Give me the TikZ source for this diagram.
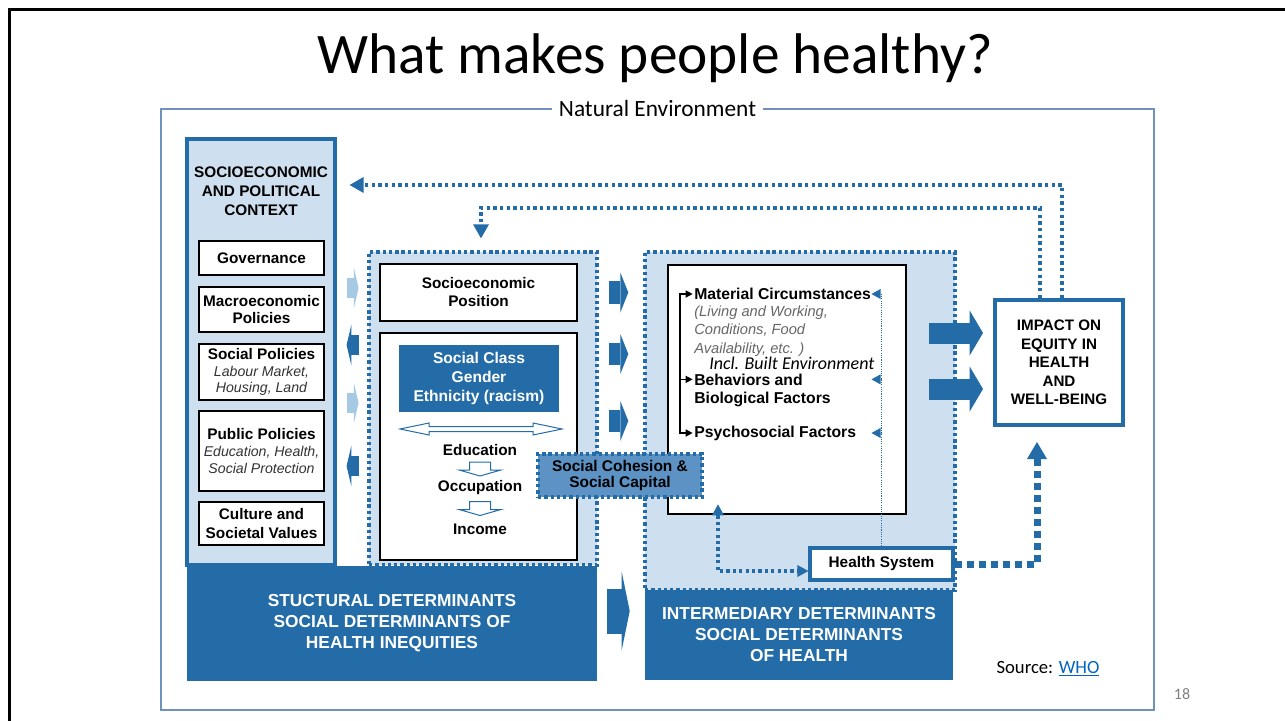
\documentclass[tikz,border=0pt]{standalone}
\usepackage{fontspec}
\setmainfont{Liberation Sans}
\newfontfamily\calibri{Carlito}
\usepackage{xcolor}
\usepackage{tikz}
\usetikzlibrary{arrows.meta}
\usetikzlibrary{calc}
\definecolor{blueD}{RGB}{36,108,168}
\definecolor{blueL}{RGB}{206,224,239}
\definecolor{blueM}{RGB}{92,146,196}
\definecolor{blueA}{RGB}{166,201,228}
\definecolor{frameB}{RGB}{110,145,190}
\definecolor{linkB}{RGB}{5,99,193}
\newcommand*\polnote[1]{{\mdseries\itshape\fontsize{10.6}{12.4}\selectfont\color{black!80}#1}}
\tikzset{
    txt/.style={inner sep=0pt, align=center, font=\bfseries\fontsize{11.5}{13.5}\selectfont},
    policy/.style={txt, draw=black, line width=1.5pt, fill=white, minimum width=93.75pt, font=\bfseries\fontsize{11.5}{12.4}\selectfont},
    whitebox/.style={txt, draw=black, line width=1.5pt, fill=white},
    bluebox/.style={txt, draw=blueD, line width=2.4pt, fill=white},
    darkbox/.style={fill=blueD, text=white, inner sep=0pt, align=center, font=\bfseries\fontsize{13}{15.75}\selectfont},
    dotregion/.style={draw=blueD, fill=blueL, line width=2.5pt, dash pattern=on 2.5pt off 2.2pt, inner sep=0pt},
    factor/.style={txt, align=left, anchor=west, font=\bfseries\fontsize{11.8}{13.5}\selectfont},
    feedback/.style={draw=blueD, line width=2.6pt, dash pattern=on 2.6pt off 2.4pt, -{Triangle[width=12pt,length=10.5pt,line width=0pt]}},
    hsarrow/.style={draw=blueD, line width=5.25pt, dash pattern=on 5.25pt off 3.75pt, -{Triangle[width=15pt,length=12.75pt,line width=0pt]}},
    hsthin/.style={draw=blueD, line width=2.5pt, dash pattern=on 2.5pt off 2.3pt, {Triangle[width=9pt,length=8.25pt,line width=0pt]}-{Triangle[width=9pt,length=8.25pt,line width=0pt]}},
    thinline/.style={draw=blueD, line width=0.8pt, dash pattern=on 0.8pt off 0.9pt},
    tinyarrow/.style={draw=blueD, line width=0.75pt, -{Triangle[width=7.5pt,length=6.75pt,line width=0pt]}},
    bracket/.style={draw=black, line width=1pt, shorten <=1pt, shorten >=1pt},
    sidearrow/.style={line width=15pt, -{Triangle[width=30pt,length=3.5pt,line width=0pt]}},
    midarrow/.style={draw=blueD, line width=17pt, -{Triangle[width=30pt,length=6pt,line width=0pt]}},
    bigblock/.style={draw=blueD, line width=33.75pt, -{Triangle[width=58.5pt,length=6pt,line width=0pt]}},
    impactarrow/.style={draw=blueD, line width=15.75pt, -{Triangle[width=33.75pt,length=10pt,line width=0pt]}},
    hollowarrow/.style={draw=blueD, line width=0.75pt, fill=white, line join=miter},
}
\begin{document}
\begin{tikzpicture}[x=0.75pt,y=-0.75pt]
\useasboundingbox (0,0) rectangle (1285,721);
\draw[line width=2.25pt] (9,721) -- (9,9) -- (1285,9);
\node[inner sep=0pt, anchor=base, font=\calibri\fontsize{43}{50}\selectfont] (title) at (655,73) {What makes people healthy?};
\node[draw=frameB, line width=1.1pt, minimum width=744.75pt, minimum height=450.75pt] (nature) at (657.5,409.5) {};
\node[fill=white, inner xsep=5pt, inner ysep=1pt, font=\calibri\fontsize{17.5}{20}\selectfont] (naturelabel) at (nature.north) {Natural Environment};

% socioeconomic and political context
\node[draw=blueD, fill=blueL, line width=2.4pt, minimum width=111pt, minimum height=319.5pt] (ctx) at (261,352) {};
\node[txt, font=\bfseries\fontsize{11.5}{14.25}\selectfont] (ctxtitle) at (261,191) {SOCIOECONOMIC\\AND POLITICAL\\CONTEXT};
\node[policy, minimum height=25.5pt] (gov) at (261.5,258) {Governance};
\node[policy, minimum height=33.75pt] (macro) at (261.5,309.5) {Macroeconomic\\Policies};
\node[policy, minimum height=42pt] (socpol) at (261.5,372) {Social Policies\\\polnote{Labour Market,}\\\polnote{Housing, Land}};
\node[policy, minimum height=60pt] (pubpol) at (261.5,451) {Public Policies\\\polnote{Education, Health,}\\\polnote{Social Protection}};
\node[policy, minimum height=32.25pt] (culture) at (261.5,523.5) {Culture and\\[1.5pt]Societal Values};

% socioeconomic position
\node[dotregion, minimum width=171pt, minimum height=234.75pt] (sepreg) at (483,408.5) {};
\node[whitebox, minimum width=147.75pt, minimum height=42.75pt] (sepos) at (478.5,292.5) {Socioeconomic\\Position};
\node[whitebox, minimum width=147.75pt, minimum height=170.25pt] (classbox) at (478.5,446.5) {};
\node[darkbox, font=\bfseries\fontsize{11.7}{14.25}\selectfont, minimum width=120pt, minimum height=50.25pt] (classes) at (479,378.5) {Social Class\\Gender\\Ethnicity (racism)};
\coordinate (dbl) at (481,429);
\draw[hollowarrow, shift={(dbl)}] (-81,0) -- (-52,-6) -- (-52,-2.5) -- (52,-2.5) -- (52,-6) -- (81,0) -- (52,6) -- (52,2.5) -- (-52,2.5) -- (-52,6) -- cycle;
\node[txt] (edu) at (480,450) {Education};
\node[txt] (occ) at (480,488) {Occupation};
\node[txt] (inc) at (480,529) {Income};
\draw[hollowarrow, shift={($(edu)!0.5!(occ)$)}] (-10.5,-7) -- (10.5,-7) -- (10.5,1) -- (21,1) -- (0,7) -- (-21,1) -- (-10.5,1) -- cycle;
\draw[hollowarrow, shift={($(occ)!0.5!(inc)$)}] (-10.5,-7) -- (10.5,-7) -- (10.5,1) -- (21,1) -- (0,7) -- (-21,1) -- (-10.5,1) -- cycle;

\draw[sidearrow, blueA] ([xshift=7.5pt]ctx.east |- 0,288) -- ++(12,0);
\draw[sidearrow, blueD] ([xshift=16.5pt]ctx.east |- 0,345) -- ++(-12,0);
\draw[sidearrow, blueA] ([xshift=7.5pt]ctx.east |- 0,403) -- ++(12,0);
\draw[sidearrow, blueD] ([xshift=16.5pt]ctx.east |- 0,466) -- ++(-12,0);

% intermediary determinants
\node[dotregion, minimum width=232.5pt, minimum height=253.5pt] (inter) at (800,421) {};
\node[draw=black, line width=1.5pt, fill=white, minimum width=178.5pt, minimum height=186.75pt] (interbox) at (787,389.5) {};
\node[factor] (mat) at (694,294) {Material Circumstances};
\node[txt, align=left, anchor=west, font=\itshape\fontsize{11}{13.9}\selectfont, text=black!60] (matnote) at (694,331) {(Living and Working,\\Conditions, Food\\Availability, etc. )};
\node[inner sep=0pt, anchor=west, font=\calibri\itshape\fontsize{13.5}{15}\selectfont] (built) at (709,363) {Incl. Built Environment};
\node[factor] (beh) at (694,390) {Behaviors and\\Biological Factors};
\node[factor] (psy) at (694,433) {Psychosocial Factors};
\coordinate (behpt) at ([yshift=-4.5pt]beh.north west);

\draw[midarrow] ([xshift=7.5pt]sepreg.east |- sepos) -- ([xshift=-11.25pt]inter.west |- sepos);
\draw[midarrow] ([xshift=7.5pt]sepreg.east |- 0,354) -- ([xshift=-11.25pt]inter.west |- 0,354);
\draw[midarrow] ([xshift=7.5pt]sepreg.east |- 0,421) -- ([xshift=-11.25pt]inter.west |- 0,421);

\node[dotregion, fill=blueM, txt, font=\bfseries\fontsize{11.6}{12}\selectfont, minimum width=123pt, minimum height=32.25pt] (cohesion) at (620,475.5) {Social Cohesion \&\\Social Capital};

\node[darkbox, minimum width=307.5pt, minimum height=86.25pt] (struct) at (392,623.5) {STUCTURAL DETERMINANTS\\SOCIAL DETERMINANTS OF\\HEALTH INEQUITIES};
\node[darkbox, minimum width=231pt, minimum height=67.5pt] (interlabel) at (799,635) {INTERMEDIARY DETERMINANTS\\SOCIAL DETERMINANTS\\OF HEALTH};
\draw[bigblock] ([xshift=7.5pt]struct.east |- 0,611) -- ([xshift=-11.25pt]interlabel.west |- 0,611);

\node[bluebox, minimum width=107.25pt, minimum height=24pt] (health) at (881.5,564) {Health System};
\node[bluebox, line width=3pt, minimum width=96pt, minimum height=93.75pt, font=\bfseries\fontsize{11.4}{13.9}\selectfont] (impact) at (1059,362.5) {IMPACT ON\\EQUITY IN\\HEALTH\\AND\\WELL-BEING};
\draw[impactarrow] ([xshift=16.5pt]interbox.east |- 0,333) -- ([xshift=-7.5pt]impact.west |- 0,333);
\draw[impactarrow] ([xshift=16.5pt]interbox.east |- 0,389) -- ([xshift=-7.5pt]impact.west |- 0,389);

% connectors
\draw[bracket, {Triangle[width=5.25pt,length=5.25pt]}-{Triangle[width=5.25pt,length=5.25pt]}] (mat.west) -| ([xshift=-10.5pt]psy.west) -- (psy.west);
\draw[bracket, -{Triangle[width=5.25pt,length=5.25pt]}] ([xshift=-10.5pt]psy.west |- behpt) -- (behpt);
\draw[thinline] (health.north) -- (health.north |- mat);
\foreach \f in {mat,behpt,psy}
    \draw[tinyarrow] (health.north |- \f) -- ++(-10,0);
\coordinate (hsleft) at (718,571);
\draw[hsthin] ([yshift=8pt]interbox.south -| hsleft) -- (hsleft) -- (health.west |- hsleft);
\coordinate (hsturn) at (1037,566);
\draw[hsarrow] (health.east) -- (health.east -| hsturn) -- ([yshift=-11.25pt]impact.south -| hsturn);
\coordinate (fbouter) at (1062,185);
\coordinate (fbinner) at (1040,208);
\coordinate (fbdown) at (481,208);
\draw[feedback] (impact.north -| fbouter) -- (fbouter) -- ([xshift=9.75pt]ctx.east |- fbouter);
\draw[feedback] (impact.north -| fbinner) -- (fbinner) -- (fbdown) -- ([yshift=9pt]sepreg.north -| fbdown);

\node[inner sep=0pt, font=\calibri\fontsize{14}{16}\selectfont] (source) at (1048,669) {Source: \textcolor{linkB}{\underline{WHO}}};
\node[inner sep=0pt, text=black!50, font=\calibri\fontsize{12}{14}\selectfont] (page) at (1182,694) {18};
\end{tikzpicture}
\end{document}
